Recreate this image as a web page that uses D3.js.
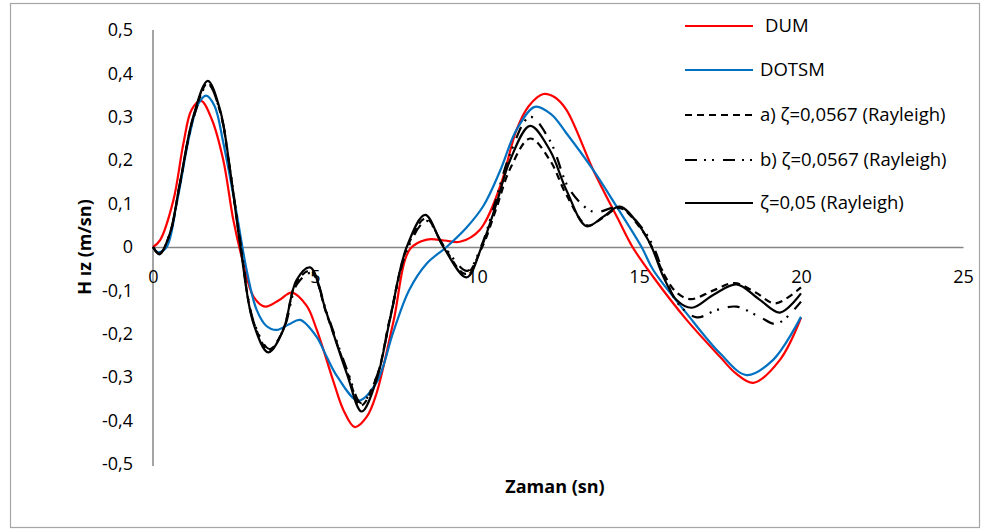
<!DOCTYPE html>
<html>
<head>
<meta charset="utf-8">
<script src="https://cdn.jsdelivr.net/npm/d3@7"></script>
<style>
  html, body { margin: 0; padding: 0; background: #fff; }
  svg { display: block; font-family: "Open Sans", sans-serif; }
</style>
</head>
<body>
<svg id="chart" width="985" height="531"></svg>
<script>
// Time axis ticks and velocity axis ticks
const xTicks = [0, 5, 10, 15, 20, 25];
const yTicks = [-0.5, -0.4, -0.3, -0.2, -0.1, 0, 0.1, 0.2, 0.3, 0.4, 0.5];

// DUM
const tDUM = [0, 0.22, 0.63, 0.94, 1.19, 1.48, 1.81, 2.17, 2.48, 2.79, 3.1, 3.46, 3.9, 4.28, 4.74, 5.05, 5.57, 5.88, 6.23, 6.6, 6.9, 7.42, 7.93, 8.45, 9.0, 9.47, 10.09, 10.71, 11.22, 11.6, 12.05, 12.4, 12.76, 13.59, 14.35, 14.8, 15.43, 16.47, 17.5, 18.0, 18.53, 19.35, 20];
const vDUM = [0, 0.016, 0.108, 0.239, 0.316, 0.337, 0.295, 0.2, 0.062, -0.038, -0.114, -0.1375, -0.122, -0.105, -0.135, -0.19, -0.31, -0.376, -0.415, -0.391, -0.337, -0.172, -0.005, 0.017, 0.015, 0.012, 0.04, 0.139, 0.27, 0.325, 0.3525, 0.345, 0.316, 0.177, 0.065, 0, -0.068, -0.168, -0.253, -0.292, -0.313, -0.26, -0.163];

// DOTSM
const tDOTSM = [0, 0.15, 0.42, 0.73, 1.14, 1.4, 1.64, 1.9, 2.17, 2.58, 2.89, 3.2, 3.5, 3.82, 4.2, 4.54, 5.05, 5.36, 5.7, 6.34, 6.9, 7.42, 7.9, 8.45, 9.06, 9.68, 10.2, 10.71, 11.22, 11.79, 12.3, 12.76, 13.59, 14.31, 15.08, 15.44, 16.47, 17.5, 18.32, 19.14, 20];
const vDOTSM = [0, -0.012, 0, 0.1, 0.262, 0.33, 0.349, 0.325, 0.24, 0.078, -0.053, -0.145, -0.182, -0.191, -0.178, -0.168, -0.207, -0.253, -0.3, -0.354, -0.312, -0.195, -0.1, -0.038, 0, 0.045, 0.095, 0.175, 0.27, 0.323, 0.305, 0.262, 0.177, 0.093, 0, -0.053, -0.153, -0.245, -0.295, -0.26, -0.161];

// a) ζ=0,0567 (Rayleigh)
const tA = [0, 0.2, 0.52, 0.83, 1.24, 1.69, 2.07, 2.38, 2.71, 3.1, 3.58, 4.02, 4.43, 4.87, 5.36, 5.98, 6.42, 6.9, 7.31, 7.85, 8.42, 8.98, 9.65, 10.16, 10.6, 11.02, 11.64, 12.25, 12.76, 13.4, 13.9, 14.41, 15.03, 15.4, 15.75, 16.16, 16.6, 17.3, 17.95, 18.6, 19.2, 20];
const vA = [0, -0.016, 0.03, 0.145, 0.297, 0.378, 0.312, 0.175, 0, -0.172, -0.238, -0.19, -0.08, -0.055, -0.155, -0.285, -0.365, -0.3, -0.165, 0, 0.066, 0, -0.062, 0, 0.09, 0.18, 0.25, 0.2, 0.12, 0.05, 0.068, 0.09, 0.045, 0, -0.06, -0.105, -0.12, -0.1, -0.083, -0.105, -0.13, -0.093];

// b) ζ=0,0567 (Rayleigh)
const tB = [0, 0.2, 0.52, 0.83, 1.24, 1.7, 2.08, 2.39, 2.72, 3.1, 3.6, 4.04, 4.45, 4.9, 5.38, 6.0, 6.43, 6.92, 7.33, 7.88, 8.45, 9.0, 9.7, 10.12, 10.55, 11.0, 11.64, 12.25, 12.87, 13.59, 14.2, 14.5, 15.08, 15.45, 15.8, 16.2, 16.78, 17.4, 18.01, 18.7, 19.25, 20];
const vB = [0, -0.015, 0.03, 0.145, 0.295, 0.375, 0.31, 0.172, 0, -0.17, -0.235, -0.188, -0.085, -0.06, -0.155, -0.285, -0.36, -0.295, -0.16, 0, 0.06, 0, -0.055, 0, 0.1, 0.21, 0.3, 0.245, 0.131, 0.081, 0.09, 0.088, 0.045, 0, -0.07, -0.13, -0.162, -0.145, -0.1375, -0.16, -0.177, -0.126];

// ζ=0,05 (Rayleigh)
const tC = [0, 0.2, 0.52, 0.83, 1.24, 1.69, 2.07, 2.38, 2.7, 3.1, 3.56, 4.02, 4.43, 4.85, 5.36, 5.98, 6.44, 6.9, 7.31, 7.83, 8.4, 8.96, 9.68, 10.14, 10.6, 11.02, 11.64, 12.25, 12.76, 13.38, 13.9, 14.41, 15.03, 15.39, 15.75, 16.16, 16.63, 17.3, 18.01, 18.7, 19.35, 20];
const vC = [0, -0.017, 0.031, 0.147, 0.3, 0.383, 0.316, 0.177, 0, -0.176, -0.243, -0.191, -0.076, -0.047, -0.153, -0.291, -0.379, -0.306, -0.168, 0, 0.074, 0, -0.07, 0, 0.1, 0.2, 0.279, 0.223, 0.131, 0.048, 0.07, 0.093, 0.047, 0, -0.068, -0.122, -0.14, -0.11, -0.086, -0.12, -0.151, -0.107];

const seriesNames = ["DUM", "DOTSM", "a) \u03B6=0,0567 (Rayleigh)", "b) \u03B6=0,0567 (Rayleigh)", "\u03B6=0,05 (Rayleigh)"];

const series = [
  { name: seriesNames[0], t: tDUM, v: vDUM, color: "#FF0000", dash: null },
  { name: seriesNames[1], t: tDOTSM, v: vDOTSM, color: "#0070C0", dash: null },
  { name: seriesNames[2], t: tA, v: vA, color: "#000000", dash: "7,5" },
  { name: seriesNames[3], t: tB, v: vB, color: "#000000", dash: "12,7,2,6,2,9" },
  { name: seriesNames[4], t: tC, v: vC, color: "#000000", dash: null }
];

const svg = d3.select("#chart");

// outer chart frame
svg.append("rect")
  .attr("x", 10.5).attr("y", 3.5)
  .attr("width", 969).attr("height", 524)
  .attr("fill", "#fff").attr("stroke", "#a6a6a6").attr("stroke-width", 1.2);

const x = d3.scaleLinear().domain([0, 25]).range([153, 963]);
const y = d3.scaleLinear().domain([-0.5, 0.5]).range([464, 30]);

const fmt = d => d === 0 ? "0" : d3.format(".1f")(d).replace(".", ",").replace("\u2212", "-");

// vertical axis
const yAxis = svg.append("g")
  .attr("transform", `translate(${x(0)},0)`)
  .call(d3.axisLeft(y).tickValues(yTicks).tickSize(0).tickPadding(20).tickFormat(fmt));
yAxis.select(".domain").attr("stroke", "#868686").attr("stroke-width", 1.5)
  .attr("d", `M0,${y(0.5)}V${y(-0.5) + 2}`);
yAxis.selectAll("text").attr("font-size", 18).attr("fill", "#000").attr("font-family", "Open Sans");

// horizontal axis through zero
const xAxis = svg.append("g")
  .attr("transform", `translate(0,${y(0)})`)
  .call(d3.axisBottom(x).tickValues(xTicks).tickSize(0).tickPadding(23).tickFormat(d3.format("d")));
xAxis.select(".domain").attr("stroke", "#868686").attr("stroke-width", 1.5);
xAxis.selectAll("text").attr("font-size", 18).attr("fill", "#000").attr("font-family", "Open Sans");

// curves
const line = d3.line()
  .x(d => x(d[0]))
  .y(d => y(d[1]))
  .curve(d3.curveCatmullRom.alpha(0.5));

series.forEach(s => {
  const pts = s.t.map((t, i) => [t, s.v[i]]);
  svg.append("path")
    .attr("d", line(pts))
    .attr("fill", "none")
    .attr("stroke", s.color)
    .attr("stroke-width", 2.2)
    .attr("stroke-dasharray", s.dash)
    .attr("stroke-linejoin", "round");
});

// legend
const legendY = [26, 70, 115, 160, 203];
const legendTextX = [765, 760, 760, 760, 760];
series.forEach((s, i) => {
  const g = svg.append("g");
  g.append("line")
    .attr("x1", 685).attr("x2", 753)
    .attr("y1", legendY[i]).attr("y2", legendY[i])
    .attr("stroke", s.color).attr("stroke-width", 2.2)
    .attr("stroke-dasharray", s.dash);
  g.append("text")
    .attr("x", legendTextX[i]).attr("y", legendY[i])
    .attr("dy", "0.35em")
    .attr("font-size", 18.5)
    .attr("fill", "#000")
    .text(s.name);
});

// axis titles
svg.append("text")
  .attr("x", 555).attr("y", 487)
  .attr("dy", "0.35em")
  .attr("text-anchor", "middle")
  .attr("font-size", 18).attr("font-weight", "bold")
  .text("Zaman (sn)");

svg.append("text")
  .attr("transform", "translate(85,247) rotate(-90)")
  .attr("dy", "0.35em")
  .attr("text-anchor", "middle")
  .attr("font-size", 18).attr("font-weight", "bold")
  .text("H ız (m/sn)");
</script>
</body>
</html>
